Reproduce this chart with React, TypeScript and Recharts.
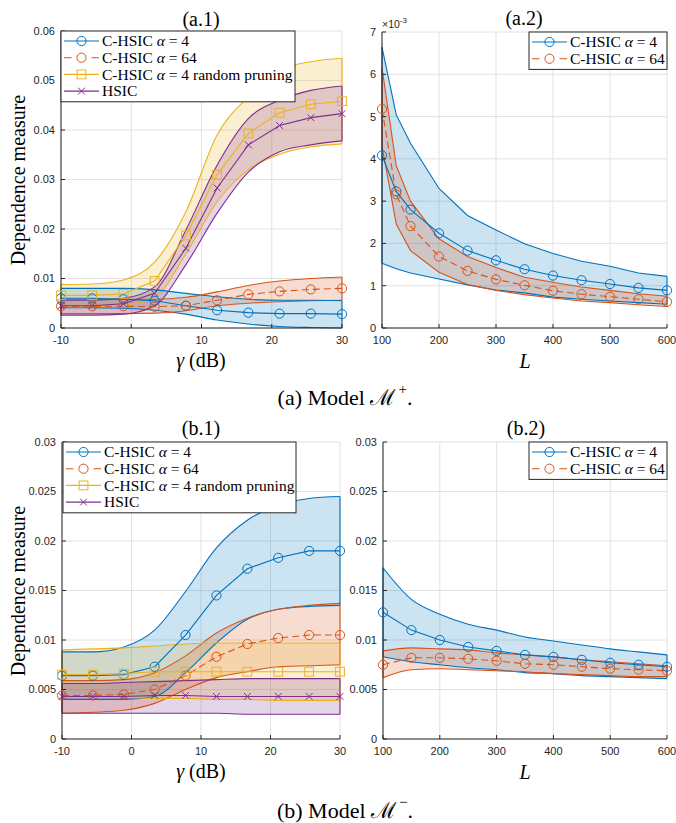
import React from 'react';
import { ComposedChart, Line, Area, XAxis, YAxis, CartesianGrid, ReferenceLine } from 'recharts';

const BLUE = '#0072BD';
const ORANGE = '#D95319';
const YELLOW = '#EDB120';
const PURPLE = '#7E2F8E';
const AXIS = '#262626';
const GRID = '#e2e2e2';
const SANS = '"Liberation Sans", Arial, sans-serif';
const SERIF = '"Liberation Serif", "Times New Roman", serif';

// ---- shared x values and ticks ----
const gammaDb = [-10, -5.56, -1.11, 3.33, 7.78, 12.22, 16.67, 21.11, 25.56, 30];
const gammaTicks = [-10, 0, 10, 20, 30];
const lengthsA = [100, 125, 150, 200, 250, 300, 350, 400, 450, 500, 550, 600];
const lengthsB = [100, 150, 200, 250, 300, 350, 400, 450, 500, 550, 600];
const lengthTicks = [100, 200, 300, 400, 500, 600];

// ---- (a.1) model M+, vs gamma ----
const a1Ticks = [0, 0.01, 0.02, 0.03, 0.04, 0.05, 0.06];
const a1Alpha4Mean = [0.006, 0.006, 0.0058, 0.0055, 0.0045, 0.0036, 0.0031, 0.0029, 0.0029, 0.0028];
const a1Alpha4Lo = [0.0041, 0.0041, 0.004, 0.0036, 0.0028, 0.0016, 0.0008, 0.0003, 0.0001, 0];
const a1Alpha4Hi = [0.008, 0.008, 0.008, 0.0077, 0.007, 0.0063, 0.0058, 0.0056, 0.0056, 0.0055];
const a1Alpha64Mean = [0.0044, 0.0044, 0.0044, 0.0043, 0.0045, 0.0056, 0.0068, 0.0074, 0.0078, 0.008];
const a1Alpha64Lo = [0.0029, 0.0029, 0.0029, 0.003, 0.0035, 0.0045, 0.005, 0.0053, 0.0055, 0.0056];
const a1Alpha64Hi = [0.0058, 0.0058, 0.0058, 0.0058, 0.0062, 0.0073, 0.0086, 0.0095, 0.01, 0.0103];
const a1PruneMean = [0.0066, 0.0066, 0.0069, 0.0095, 0.0187, 0.031, 0.0393, 0.0435, 0.0452, 0.0458];
const a1PruneLo = [0.0043, 0.0043, 0.0046, 0.0062, 0.015, 0.0255, 0.032, 0.0351, 0.0366, 0.0372];
const a1PruneHi = [0.0088, 0.0089, 0.0097, 0.0133, 0.0235, 0.039, 0.0467, 0.0521, 0.0538, 0.0545];
const a1HsicMean = [0.0045, 0.0045, 0.0049, 0.007, 0.0161, 0.0283, 0.037, 0.0409, 0.0425, 0.0433];
const a1HsicLo = [0.0026, 0.0026, 0.0028, 0.0045, 0.0128, 0.0232, 0.0315, 0.0356, 0.037, 0.0378];
const a1HsicHi = [0.0056, 0.0056, 0.006, 0.0083, 0.0198, 0.0329, 0.0423, 0.046, 0.048, 0.0489];

// ---- (a.2) model M+, vs L (values in units of 1e-3) ----
const a2Ticks = [0, 1, 2, 3, 4, 5, 6, 7];
const a2Alpha4Mean = [4.08, 3.23, 2.8, 2.24, 1.83, 1.6, 1.39, 1.24, 1.13, 1.04, 0.95, 0.89];
const a2Alpha4Lo = [1.53, 1.4, 1.3, 1.16, 1.02, 0.9, 0.83, 0.73, 0.68, 0.64, 0.6, 0.56];
const a2Alpha4Hi = [6.64, 5.04, 4.37, 3.3, 2.66, 2.32, 1.99, 1.76, 1.58, 1.46, 1.3, 1.22];
const a2Alpha64Mean = [5.18, 3.16, 2.41, 1.69, 1.35, 1.15, 1.01, 0.88, 0.8, 0.74, 0.68, 0.62];
const a2Alpha64Lo = [4.3, 2.46, 1.83, 1.32, 1.03, 0.89, 0.79, 0.71, 0.64, 0.6, 0.55, 0.51];
const a2Alpha64Hi = [6.15, 3.84, 3.0, 2.11, 1.69, 1.43, 1.2, 1.08, 0.97, 0.89, 0.81, 0.75];

// ---- (b.1) model M-, vs gamma ----
const bTicks = [0, 0.005, 0.01, 0.015, 0.02, 0.025, 0.03];
const b1Alpha4Mean = [0.0064, 0.0064, 0.0065, 0.0073, 0.0105, 0.0145, 0.0172, 0.0183, 0.019, 0.019];
const b1Alpha4Lo = [0.004, 0.004, 0.004, 0.0043, 0.0067, 0.0097, 0.0121, 0.0131, 0.0134, 0.0135];
const b1Alpha4Hi = [0.0088, 0.0088, 0.0093, 0.011, 0.0149, 0.0193, 0.0221, 0.0236, 0.0243, 0.0245];
const b1Alpha64Mean = [0.0044, 0.0044, 0.0045, 0.005, 0.0064, 0.0083, 0.0096, 0.0102, 0.0105, 0.0105];
const b1Alpha64Lo = [0.0026, 0.0027, 0.0029, 0.0036, 0.005, 0.0062, 0.0068, 0.0073, 0.0074, 0.0075];
const b1Alpha64Hi = [0.0059, 0.0059, 0.006, 0.0067, 0.0084, 0.0107, 0.0122, 0.0131, 0.0135, 0.0137];
const b1PruneMean = [0.0065, 0.0065, 0.0066, 0.0068, 0.0068, 0.0068, 0.0068, 0.0068, 0.0068, 0.0068];
const b1PruneLo = [0.0042, 0.0042, 0.0042, 0.0041, 0.0041, 0.004, 0.004, 0.0039, 0.0039, 0.0039];
const b1PruneHi = [0.009, 0.0091, 0.0092, 0.0094, 0.0096, 0.0097, 0.0097, 0.0097, 0.0097, 0.0097];
const b1HsicMean = [0.0043, 0.0043, 0.0043, 0.0044, 0.0044, 0.0043, 0.0043, 0.0043, 0.0043, 0.0043];
const b1HsicLo = [0.0026, 0.0026, 0.0026, 0.0026, 0.0026, 0.0026, 0.0025, 0.0025, 0.0025, 0.0025];
const b1HsicHi = [0.0056, 0.0056, 0.0057, 0.0058, 0.0059, 0.006, 0.0061, 0.0061, 0.0061, 0.0061];

// ---- (b.2) model M-, vs L ----
const b2Alpha4Mean = [0.0128, 0.011, 0.01, 0.0093, 0.0089, 0.0085, 0.0083, 0.008, 0.0077, 0.0075, 0.0073];
const b2Alpha4Lo = [0.0083, 0.0078, 0.0075, 0.0072, 0.007, 0.0067, 0.0066, 0.0064, 0.0063, 0.0062, 0.0061];
const b2Alpha4Hi = [0.0173, 0.0141, 0.0126, 0.0116, 0.011, 0.0103, 0.0099, 0.0095, 0.0091, 0.0088, 0.0085];
const b2Alpha64Mean = [0.0075, 0.0082, 0.0082, 0.0081, 0.0079, 0.0076, 0.0075, 0.0073, 0.0071, 0.007, 0.0069];
const b2Alpha64Lo = [0.0062, 0.007, 0.0071, 0.007, 0.0069, 0.0068, 0.0066, 0.0065, 0.0064, 0.0063, 0.0063];
const b2Alpha64Hi = [0.0089, 0.0092, 0.0091, 0.009, 0.0087, 0.0085, 0.0083, 0.008, 0.0078, 0.0076, 0.0074];

type Marker = 'o' | 's' | 'x';
type Series = { key: string; color: string; marker: Marker; dashed?: boolean; mean: number[]; lo: number[]; hi: number[] };
type Box = { left: number; top: number; width: number; height: number };

const MarkerShape = ({ m, cx, cy, color }: { m: Marker; cx: number; cy: number; color: string }) => {
  if (m === 'o') return <circle cx={cx} cy={cy} r={4.6} fill="none" stroke={color} strokeWidth={1} />;
  if (m === 's') return <rect x={cx - 4.4} y={cy - 4.4} width={8.8} height={8.8} fill="none" stroke={color} strokeWidth={1} />;
  return (
    <g stroke={color} strokeWidth={1}>
      <line x1={cx - 3.4} y1={cy - 3.4} x2={cx + 3.4} y2={cy + 3.4} />
      <line x1={cx - 3.4} y1={cy + 3.4} x2={cx + 3.4} y2={cy - 3.4} />
    </g>
  );
};

const makeDot = (m: Marker, color: string) => (p: any) => {
  if (p.cx == null || p.cy == null) return <g key={p.index} />;
  return <g key={p.index}><MarkerShape m={m} cx={p.cx} cy={p.cy} color={color} /></g>;
};

const BottomTick = (p: any) => (
  <g>
    <line x1={p.x} x2={p.x} y1={p.y - 8} y2={p.y - 12} stroke={AXIS} />
    <text x={p.x} y={p.y} dy="0.75em" textAnchor="middle" fontFamily={SANS} fontSize={11} fill={AXIS}>{String(p.payload.value)}</text>
  </g>
);
const LeftTick = (p: any) => (
  <g>
    <line x1={p.x + 6} x2={p.x + 10} y1={p.y} y2={p.y} stroke={AXIS} />
    <text x={p.x} y={p.y} dy="0.36em" textAnchor="end" fontFamily={SANS} fontSize={11} fill={AXIS}>{String(p.payload.value)}</text>
  </g>
);
const TopTick = (p: any) => <line x1={p.x} x2={p.x} y1={p.y} y2={p.y + 4} stroke={AXIS} />;
const RightTick = (p: any) => <line x1={p.x} x2={p.x - 4} y1={p.y} y2={p.y} stroke={AXIS} />;

function Panel({ box, xs, xTicks, yTicks, series, smooth }: { box: Box; xs: number[]; xTicks: number[]; yTicks: number[]; series: Series[]; smooth: boolean }) {
  const data = xs.map((x, i) => {
    const row: any = { x };
    series.forEach((s) => {
      row[s.key] = s.mean[i];
      row[s.key + 'Lo'] = s.lo[i];
      row[s.key + 'Hi'] = s.hi[i];
      row[s.key + 'Band'] = [s.lo[i], s.hi[i]];
    });
    return row;
  });
  const xDomain = [xTicks[0], xTicks[xTicks.length - 1]];
  const yDomain = [yTicks[0], yTicks[yTicks.length - 1]];
  const edge = smooth ? 'monotone' : 'linear';
  const last = xs.length - 1;
  return (
    <div style={{ position: 'absolute', left: box.left - 50, top: box.top - 10 }}>
      <ComposedChart width={box.width + 60} height={box.height + 40} data={data} margin={{ top: 10, right: 10, left: 0, bottom: 0 }}>
        <CartesianGrid stroke={GRID} />
        <XAxis dataKey="x" type="number" domain={xDomain} ticks={xTicks} interval={0} height={30} tickSize={0} tickMargin={8} tickLine={false} axisLine={{ stroke: AXIS }} tick={(p: any) => <BottomTick {...p} />} />
        <XAxis xAxisId="top" orientation="top" dataKey="x" type="number" domain={xDomain} ticks={xTicks} interval={0} height={0} tickSize={0} tickMargin={0} tickLine={false} axisLine={{ stroke: AXIS }} tick={(p: any) => <TopTick {...p} />} />
        <YAxis type="number" domain={yDomain} ticks={yTicks} interval={0} width={50} tickSize={0} tickMargin={6} tickLine={false} axisLine={{ stroke: AXIS }} tick={(p: any) => <LeftTick {...p} />} />
        <YAxis yAxisId="right" orientation="right" type="number" domain={yDomain} ticks={yTicks} interval={0} width={0} tickSize={0} tickMargin={0} tickLine={false} axisLine={{ stroke: AXIS }} tick={(p: any) => <RightTick {...p} />} />
        {series.map((s) => (
          <Area key={s.key + 'Band'} dataKey={s.key + 'Band'} type={edge} fill={s.color} fillOpacity={0.2} stroke="none" isAnimationActive={false} />
        ))}
        {series.map((s) => (
          <Line key={s.key + 'Lo'} dataKey={s.key + 'Lo'} type={edge} stroke={s.color} strokeWidth={1.1} dot={false} isAnimationActive={false} />
        ))}
        {series.map((s) => (
          <Line key={s.key + 'Hi'} dataKey={s.key + 'Hi'} type={edge} stroke={s.color} strokeWidth={1.1} dot={false} isAnimationActive={false} />
        ))}
        {series.map((s) => (
          <ReferenceLine key={s.key + 'L'} segment={[{ x: xs[0], y: s.lo[0] }, { x: xs[0], y: s.hi[0] }]} stroke={s.color} strokeWidth={1.1} />
        ))}
        {series.map((s) => (
          <ReferenceLine key={s.key + 'R'} segment={[{ x: xs[last], y: s.lo[last] }, { x: xs[last], y: s.hi[last] }]} stroke={s.color} strokeWidth={1.1} />
        ))}
        {series.map((s) => (
          <Line key={s.key} dataKey={s.key} type="linear" stroke={s.color} strokeWidth={1.1} strokeDasharray={s.dashed ? '7 4' : undefined} dot={makeDot(s.marker, s.color)} isAnimationActive={false} />
        ))}
      </ComposedChart>
    </div>
  );
}

type LegendItem = { color: string; marker: Marker; dashed?: boolean; label: string; extra?: string };

function LegendBox({ x, y, width, items }: { x: number; y: number; width: number; items: LegendItem[] }) {
  const rowH = 16.7;
  const h = items.length * rowH + 4;
  return (
    <g>
      <rect x={x} y={y} width={width} height={h} fill="#fff" stroke={AXIS} strokeWidth={1} />
      {items.map((it, i) => {
        const cy = y + 10 + i * rowH;
        return (
          <g key={i}>
            <line x1={x + 3} x2={x + 38} y1={cy} y2={cy} stroke={it.color} strokeWidth={1.1} strokeDasharray={it.dashed ? '7.5 20 7.5' : undefined} />
            <MarkerShape m={it.marker} cx={x + 20.5} cy={cy} color={it.color} />
            <text x={x + 41} y={cy} dy="0.33em" fontFamily={SERIF} fontSize={15.5} fill="#000">
              {it.label}
              {it.extra !== undefined && (
                <>
                  <tspan fontStyle="italic"> α</tspan>
                  <tspan> = {it.extra}</tspan>
                </>
              )}
            </text>
          </g>
        );
      })}
    </g>
  );
}

const fourItems: LegendItem[] = [
  { color: BLUE, marker: 'o', label: 'C-HSIC', extra: '4' },
  { color: ORANGE, marker: 'o', dashed: true, label: 'C-HSIC', extra: '64' },
  { color: YELLOW, marker: 's', label: 'C-HSIC', extra: '4 random pruning' },
  { color: PURPLE, marker: 'x', label: 'HSIC' },
];
const twoItems = fourItems.slice(0, 2);

const a1Series: Series[] = [
  { key: 'c4', color: BLUE, marker: 'o', mean: a1Alpha4Mean, lo: a1Alpha4Lo, hi: a1Alpha4Hi },
  { key: 'c64', color: ORANGE, marker: 'o', dashed: true, mean: a1Alpha64Mean, lo: a1Alpha64Lo, hi: a1Alpha64Hi },
  { key: 'rp', color: YELLOW, marker: 's', mean: a1PruneMean, lo: a1PruneLo, hi: a1PruneHi },
  { key: 'hs', color: PURPLE, marker: 'x', mean: a1HsicMean, lo: a1HsicLo, hi: a1HsicHi },
];
const a2Series: Series[] = [
  { key: 'c4', color: BLUE, marker: 'o', mean: a2Alpha4Mean, lo: a2Alpha4Lo, hi: a2Alpha4Hi },
  { key: 'c64', color: ORANGE, marker: 'o', dashed: true, mean: a2Alpha64Mean, lo: a2Alpha64Lo, hi: a2Alpha64Hi },
];
const b1Series: Series[] = [
  { key: 'c4', color: BLUE, marker: 'o', mean: b1Alpha4Mean, lo: b1Alpha4Lo, hi: b1Alpha4Hi },
  { key: 'c64', color: ORANGE, marker: 'o', dashed: true, mean: b1Alpha64Mean, lo: b1Alpha64Lo, hi: b1Alpha64Hi },
  { key: 'rp', color: YELLOW, marker: 's', mean: b1PruneMean, lo: b1PruneLo, hi: b1PruneHi },
  { key: 'hs', color: PURPLE, marker: 'x', mean: b1HsicMean, lo: b1HsicLo, hi: b1HsicHi },
];
const b2Series: Series[] = [
  { key: 'c4', color: BLUE, marker: 'o', mean: b2Alpha4Mean, lo: b2Alpha4Lo, hi: b2Alpha4Hi },
  { key: 'c64', color: ORANGE, marker: 'o', dashed: true, mean: b2Alpha64Mean, lo: b2Alpha64Lo, hi: b2Alpha64Hi },
];

const boxA1: Box = { left: 61, top: 31, width: 281, height: 297 };
const boxA2: Box = { left: 382, top: 32, width: 285, height: 296 };
const boxB1: Box = { left: 62, top: 442, width: 278, height: 297 };
const boxB2: Box = { left: 383, top: 442, width: 284, height: 297 };

const T = (p: any) => <text fontFamily={SERIF} fill="#000" textAnchor="middle" dominantBaseline="central" {...p} />;

export default function App() {
  return (
    <div style={{ position: 'absolute', left: 0, top: 0, width: 676, height: 823, background: '#fff' }}>
      <Panel box={boxA1} xs={gammaDb} xTicks={gammaTicks} yTicks={a1Ticks} series={a1Series} smooth />
      <Panel box={boxA2} xs={lengthsA} xTicks={lengthTicks} yTicks={a2Ticks} series={a2Series} smooth={false} />
      <Panel box={boxB1} xs={gammaDb} xTicks={gammaTicks} yTicks={bTicks} series={b1Series} smooth />
      <Panel box={boxB2} xs={lengthsB} xTicks={lengthTicks} yTicks={bTicks} series={b2Series} smooth />
      <svg width={676} height={823} style={{ position: 'absolute', left: 0, top: 0, pointerEvents: 'none' }}>
        <T x={201} y={19} fontSize={20}>(a.1)</T>
        <T x={524} y={18} fontSize={20}>(a.2)</T>
        <T x={201} y={428} fontSize={20}>(b.1)</T>
        <T x={526} y={428} fontSize={20}>(b.2)</T>
        <T x={201} y={360} fontSize={20}><tspan fontStyle="italic">γ</tspan> (dB)</T>
        <T x={525} y={361} fontSize={20} fontStyle="italic">L</T>
        <T x={201} y={771} fontSize={20}><tspan fontStyle="italic">γ</tspan> (dB)</T>
        <T x={525} y={772} fontSize={20} fontStyle="italic">L</T>
        <T x={18} y={180} fontSize={20} transform="rotate(-90 18 180)">Dependence measure</T>
        <T x={18} y={591} fontSize={20} transform="rotate(-90 18 591)">Dependence measure</T>
        <T x={345} y={397} fontSize={22}>(a) Model ℳ<tspan dx={3} dy={-8} fontSize={15}>+</tspan><tspan dy={8}>.</tspan></T>
        <T x={345} y={810} fontSize={22}>(b) Model ℳ<tspan dx={3} dy={-8} fontSize={15}>−</tspan><tspan dy={8}>.</tspan></T>
        <text x={382} y={28} fontFamily={SANS} fontSize={10.5} fill={AXIS}>×10<tspan dy={-5} fontSize={8}>-3</tspan></text>
        <LegendBox x={61} y={31} width={234} items={fourItems} />
        <LegendBox x={529} y={32} width={138} items={twoItems} />
        <LegendBox x={63} y={442} width={233} items={fourItems} />
        <LegendBox x={529} y={442} width={138} items={twoItems} />
      </svg>
    </div>
  );
}
